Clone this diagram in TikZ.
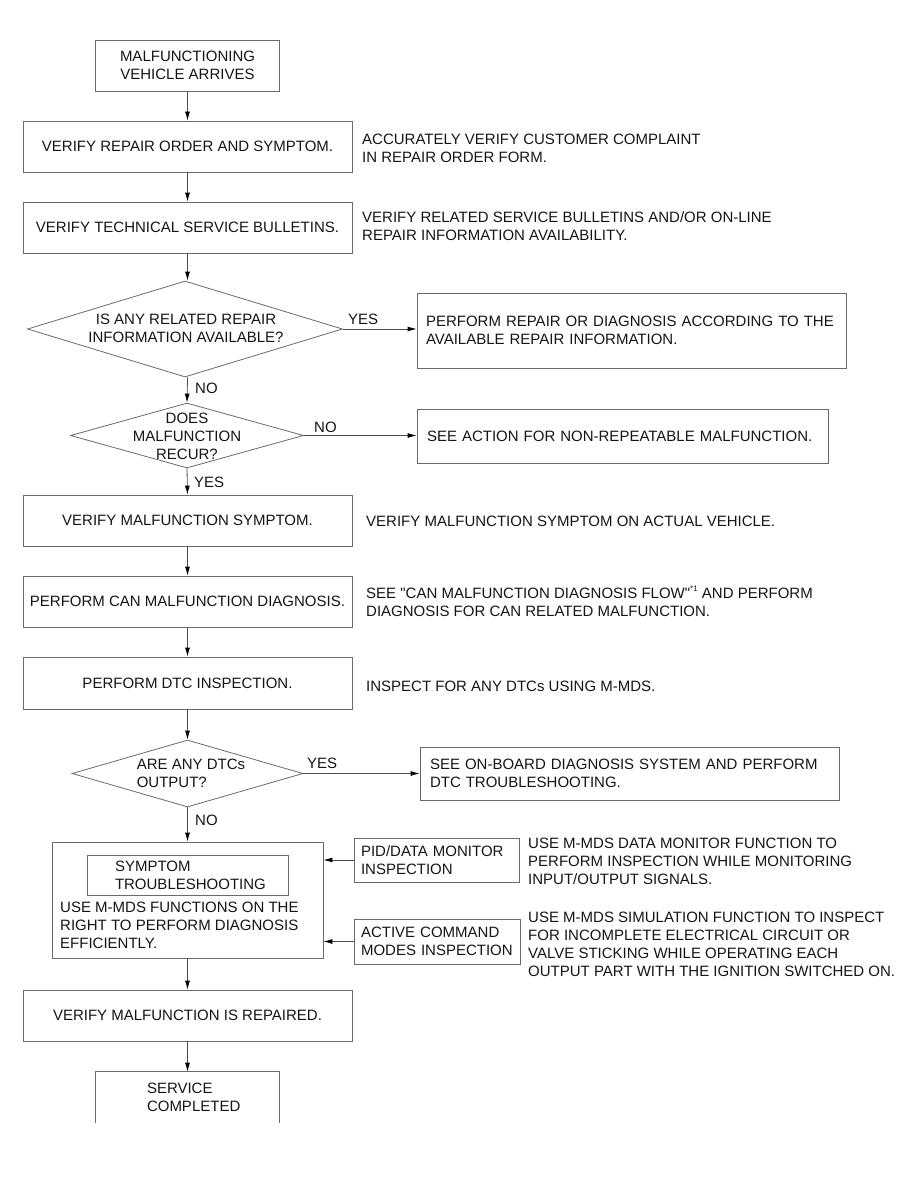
\documentclass[tikz,border=0pt]{standalone}
\usepackage{fontspec}
\setmainfont{Liberation Sans}
\usetikzlibrary{shapes.geometric,arrows.meta}
\definecolor{lc}{HTML}{6A6A6A}
\definecolor{tc}{HTML}{151515}
\tikzset{
  txt/.style={font=\fontsize{15}{18}\selectfont, text=tc},
  box/.style={draw=lc, line width=0.8pt, inner sep=0pt, txt, align=center},
  lbox/.style={draw=lc, line width=0.8pt, inner ysep=0pt, txt, align=left},
  dia/.style={draw=lc, line width=0.8pt, diamond, inner sep=0pt},
  side/.style={txt, anchor=west, align=left, inner sep=0pt},
  lbl/.style={txt, inner sep=0pt},
  arr/.style={draw=black!70, line width=0.8pt, -{Latex[length=9pt,width=5pt,color=black]}},
  ln/.style={draw=black!75, line width=0.8pt}
}
\begin{document}
\begin{tikzpicture}[x=1pt,y=-1pt]
\useasboundingbox (0,0) rectangle (918,1188);
% main column
\node[box, minimum width=184, minimum height=51] (start) at (187.5,65.5) {MALFUNCTIONING\\VEHICLE ARRIVES};
\node[box, minimum width=329, minimum height=51] (b1) at (187.5,146.5) {VERIFY REPAIR ORDER AND SYMPTOM.};
\node[box, minimum width=329, minimum height=51] (b2) at (187.5,227.5) {VERIFY TECHNICAL SERVICE BULLETINS.};
\node[dia, minimum width=315, minimum height=96] (d1) at (185,329) {};
\node[lbl, align=center] (d1t) at (186,328) {IS ANY RELATED REPAIR\\INFORMATION AVAILABLE?};
\node[dia, minimum width=233, minimum height=65] (d2) at (187,435.5) {};
\node[lbl, align=center] (d2t) at (187,436) {DOES\\MALFUNCTION\\RECUR?};
\node[box, minimum width=329, minimum height=51] (b3) at (187.5,520.5) {VERIFY MALFUNCTION SYMPTOM.};
\node[box, minimum width=329, minimum height=51] (b4) at (187.5,601.5) {PERFORM CAN MALFUNCTION DIAGNOSIS.};
\node[box, minimum width=329, minimum height=52] (b5) at (187.5,683) {PERFORM DTC INSPECTION.};
\node[dia, minimum width=231, minimum height=67] (d3) at (187.5,773.5) {};
\node[lbl, align=left] (d3t) at (191,773) {ARE ANY DTCs\\OUTPUT?};
\node[box, minimum width=271, minimum height=116] (big) at (187.5,900) {};
\node[lbox, minimum width=201, minimum height=40, text width=201, inner xsep=0pt, inner ysep=0pt] (inner) at (187.5,875) {\hspace*{28pt}SYMPTOM\\\hspace*{28pt}TROUBLESHOOTING};
\node[side] (bigt) at (60,925) {USE M-MDS FUNCTIONS ON THE\\RIGHT TO PERFORM DIAGNOSIS\\EFFICIENTLY.};
\node[box, minimum width=329, minimum height=51] (b6) at (187.5,1015.5) {VERIFY MALFUNCTION IS REPAIRED.};
\node[lbox, draw=none, minimum width=183, minimum height=51, text width=183, inner xsep=0pt] (end) at (187.5,1097.5) {\hspace*{51pt}SERVICE\\\hspace*{51pt}COMPLETED};
\draw[line width=0.8pt, draw=lc] (end.south west) -- (end.north west) -- (end.north east) -- (end.south east);
% right boxes
\node[lbox, minimum width=429, minimum height=75, text width=411, inner xsep=9pt] (yes1) at (631.5,330.5) {PERFORM REPAIR OR DIAGNOSIS ACCORDING TO THE\\AVAILABLE REPAIR INFORMATION.};
\node[lbox, minimum width=411, minimum height=54, text width=391, inner xsep=10pt] (no2) at (622.5,436) {SEE ACTION FOR NON-REPEATABLE MALFUNCTION.};
\node[lbox, minimum width=419, minimum height=53, text width=399, inner xsep=10pt] (dtc) at (629.5,773.5) {SEE ON-BOARD DIAGNOSIS SYSTEM AND PERFORM\\DTC TROUBLESHOOTING.};
\node[lbox, minimum width=165, minimum height=44, text width=151, inner xsep=7pt] (pid) at (436.5,860) {PID/DATA MONITOR\\INSPECTION};
\node[lbox, minimum width=166, minimum height=45, text width=152, inner xsep=7pt] (act) at (437,941.5) {ACTIVE COMMAND\\MODES INSPECTION};
% side texts
\node[side] (s1) at (362,148) {ACCURATELY VERIFY CUSTOMER COMPLAINT\\IN REPAIR ORDER FORM.};
\node[side] (s2) at (362,226) {VERIFY RELATED SERVICE BULLETINS AND/OR ON-LINE\\REPAIR INFORMATION AVAILABILITY.};
\node[side] (s3) at (366,521) {VERIFY MALFUNCTION SYMPTOM ON ACTUAL VEHICLE.};
\node[side] (s4) at (366,601.5) {SEE \textquotedbl CAN MALFUNCTION DIAGNOSIS FLOW\textquotedbl\raisebox{0.45em}{\fontsize{8}{8}\selectfont *1} AND PERFORM\\DIAGNOSIS FOR CAN RELATED MALFUNCTION.};
\node[side] (s5) at (366,686) {INSPECT FOR ANY DTCs USING M-MDS.};
\node[side] (s6) at (528,861) {USE M-MDS DATA MONITOR FUNCTION TO\\PERFORM INSPECTION WHILE MONITORING\\INPUT/OUTPUT SIGNALS.};
\node[side] (s7) at (528,944) {USE M-MDS SIMULATION FUNCTION TO INSPECT\\FOR INCOMPLETE ELECTRICAL CIRCUIT OR\\VALVE STICKING WHILE OPERATING EACH\\OUTPUT PART WITH THE IGNITION SWITCHED ON.};
% labels
\node[lbl, anchor=west] (l1) at (348,319) {YES};
\node[lbl, anchor=west] (l2) at (195,388) {NO};
\node[lbl, anchor=west] (l3) at (314,427) {NO};
\node[lbl, anchor=west] (l4) at (194,482) {YES};
\node[lbl, anchor=west] (l5) at (307,763) {YES};
\node[lbl, anchor=west] (l6) at (195,820) {NO};
% connectors
\draw[arr] (start.south) -- (b1.north);
\draw[arr] (b1.south) -- (b2.north);
\draw[arr] (b2.south) -- (b2.south |- d1.north);
\draw[arr] (d1.east) -- (d1.east -| yes1.west);
\draw[arr] (b2.south |- d1.south) -- (d2.north);
\draw[arr] (d2.east) -- (d2.east -| no2.west);
\draw[arr] (d2.south) -- (b3.north);
\draw[arr] (b3.south) -- (b4.north);
\draw[arr] (b4.south) -- (b5.north);
\draw[arr] (b5.south) -- (d3.north);
\draw[arr] (d3.east) -- (d3.east -| dtc.west);
\draw[arr] (d3.south) -- (big.north);
\draw[arr] (pid.west) -- (pid.west -| big.east);
\draw[arr] (act.west) -- (act.west -| big.east);
\draw[arr] (big.south) -- (b6.north);
\draw[arr] (b6.south) -- (end.north);
\end{tikzpicture}
\end{document}
